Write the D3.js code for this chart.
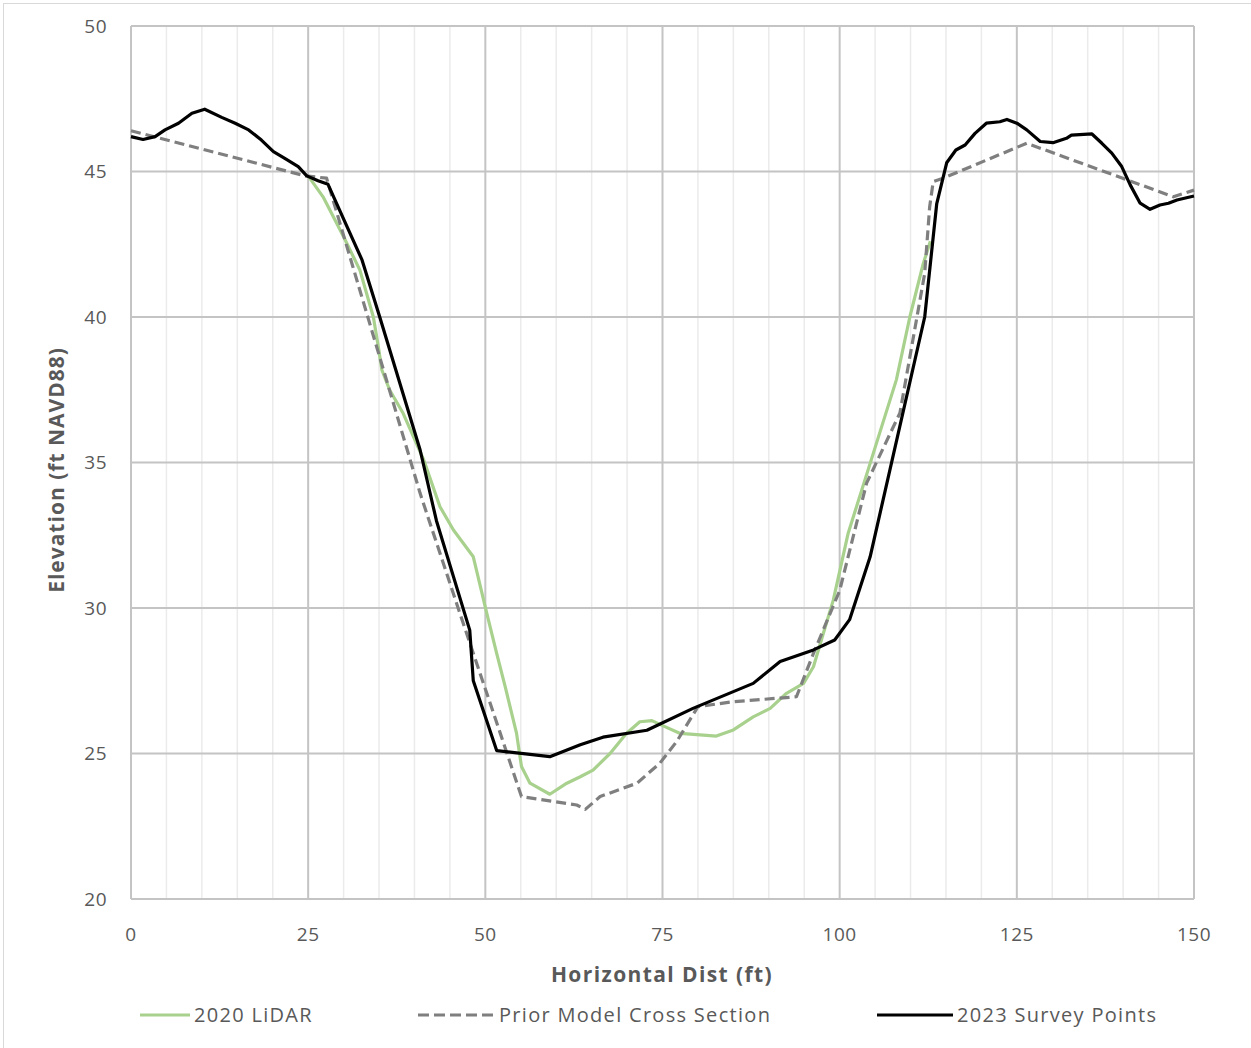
<!DOCTYPE html>
<html>
<head>
<meta charset="utf-8">
<script src="https://cdn.jsdelivr.net/npm/d3@7"></script>
<style>
  body { margin: 0; background: #fff; }
  text { font-family: "Open Sans", "Segoe UI", sans-serif; }
</style>
</head>
<body>
<svg id="chart" width="1251" height="1048"></svg>
<script>
// 2020 LiDAR (x ft, elevation ft)
const lidarX = [25.0, 27.1, 30.0, 32.3, 34.2, 34.9, 35.4, 36.5, 38.4, 41.3, 43.6, 45.5, 48.3, 50.2, 51.6, 52.8, 54.4, 55.1, 56.3, 59.1, 61.5, 63.4, 65.2, 67.6, 69.9, 71.8, 73.5, 75.1, 77.5, 80.3, 82.6, 85.0, 87.8, 90.2, 92.5, 94.9, 96.3, 97.7, 99.1, 101.2, 104.3, 108.0, 109.9, 111.8, 112.8];
const lidarY = [44.85, 44.13, 42.76, 41.61, 40.0, 38.98, 38.18, 37.49, 36.69, 35.09, 33.48, 32.68, 31.76, 29.82, 28.44, 27.3, 25.7, 24.55, 23.98, 23.6, 23.98, 24.2, 24.43, 25.0, 25.69, 26.09, 26.13, 25.95, 25.69, 25.64, 25.6, 25.81, 26.26, 26.55, 27.07, 27.41, 27.98, 29.13, 30.27, 32.57, 34.97, 37.84, 40.0, 41.84, 42.6];

// Prior model cross section
const priorX = [0, 24.6, 27.6, 40.8, 46.4, 52.1, 55.1, 62.9, 64.1, 66.2, 71.4, 74.6, 77.0, 80.0, 85.0, 93.9, 96.3, 100.0, 103.8, 108.5, 112.0, 112.7, 113.2, 114.6, 126.4, 147.1, 150];
const priorY = [46.4, 44.85, 44.77, 33.94, 29.82, 25.7, 23.52, 23.23, 23.08, 23.52, 23.98, 24.66, 25.41, 26.61, 26.78, 26.95, 28.44, 30.6, 34.29, 36.7, 41.5, 43.79, 44.65, 44.77, 45.97, 44.13, 44.36];

// 2023 survey points
const surveyX = [0, 1.7, 3.4, 4.8, 6.7, 8.6, 10.4, 12.8, 14.7, 16.6, 18.4, 20.1, 21.7, 23.6, 24.8, 26.4, 27.8, 32.6, 35.1, 40.8, 43.1, 47.8, 48.3, 51.6, 59.1, 63.4, 66.6, 72.8, 79.3, 87.8, 91.6, 96.3, 99.3, 101.4, 104.3, 107.3, 112.0, 113.7, 115.1, 116.4, 117.7, 119.1, 120.7, 122.6, 123.6, 125.0, 126.4, 128.3, 130.1, 132.0, 132.7, 135.6, 137.0, 138.4, 139.8, 141.0, 142.4, 143.8, 145.2, 146.4, 147.6, 150];
const surveyY = [46.2, 46.1, 46.2, 46.43, 46.66, 47.0, 47.14, 46.86, 46.66, 46.43, 46.08, 45.68, 45.45, 45.17, 44.85, 44.68, 44.56, 41.96, 40.0, 35.43, 33.0, 29.24, 27.5, 25.1, 24.89, 25.3, 25.56, 25.8, 26.55, 27.41, 28.16, 28.56, 28.9, 29.6, 31.76, 34.97, 40.0, 43.9, 45.3, 45.74, 45.91, 46.31, 46.66, 46.71, 46.79, 46.66, 46.43, 46.03, 45.99, 46.14, 46.25, 46.29, 45.97, 45.63, 45.17, 44.54, 43.91, 43.7, 43.85, 43.91, 44.02, 44.16];

const xTicks = [0, 25, 50, 75, 100, 125, 150];
const xMinor = d3.range(0, 151, 5);
const yTicks = [20, 25, 30, 35, 40, 45, 50];

const series = [
  { name: "2020 LiDAR", xs: lidarX, ys: lidarY, color: "#a9d18e", width: 3.2, dash: null },
  { name: "Prior Model Cross Section", xs: priorX, ys: priorY, color: "#7f7f7f", width: 3.2, dash: "10,5" },
  { name: "2023 Survey Points", xs: surveyX, ys: surveyY, color: "#000000", width: 3.2, dash: null }
];

const svg = d3.select("#chart");
const margin = { l: 131, r: 57, t: 26, b: 149 };
const W = 1251, H = 1048;

// light frame around chart area
svg.append("rect").attr("x", 3.5).attr("y", 3.5).attr("width", W).attr("height", H)
  .attr("fill", "none").attr("stroke", "#d9d9d9").attr("stroke-width", 1);

const x = d3.scaleLinear().domain([0, 150]).range([margin.l, W - margin.r]);
const y = d3.scaleLinear().domain([20, 50]).range([H - margin.b, margin.t]);

// minor vertical gridlines
svg.append("g").selectAll("line").data(xMinor.filter(d => d % 25 !== 0)).join("line")
  .attr("x1", d => x(d)).attr("x2", d => x(d))
  .attr("y1", y(20)).attr("y2", y(50))
  .attr("stroke", "#ebebeb").attr("stroke-width", 1.5);

// major gridlines
svg.append("g").selectAll("line").data(xTicks).join("line")
  .attr("x1", d => x(d)).attr("x2", d => x(d))
  .attr("y1", y(20)).attr("y2", y(50))
  .attr("stroke", "#c4c4c4").attr("stroke-width", 2);
svg.append("g").selectAll("line").data(yTicks).join("line")
  .attr("x1", x(0)).attr("x2", x(150))
  .attr("y1", d => y(d)).attr("y2", d => y(d))
  .attr("stroke", "#c4c4c4").attr("stroke-width", 2);

// tick labels
svg.append("g").selectAll("text").data(yTicks).join("text")
  .attr("x", 107).attr("y", d => y(d)).attr("dy", "0.35em")
  .attr("text-anchor", "end").attr("font-size", 19).attr("fill", "#595959")
  .attr("letter-spacing", 0.5)
  .text(d => d);
svg.append("g").selectAll("text").data(xTicks).join("text")
  .attr("x", d => x(d)).attr("y", 934).attr("dy", "0.35em")
  .attr("text-anchor", "middle").attr("font-size", 19).attr("fill", "#595959")
  .attr("letter-spacing", 0.5)
  .text(d => d);

// axis titles
svg.append("text").attr("x", 662).attr("y", 975).attr("dy", "0.35em")
  .attr("text-anchor", "middle").attr("font-size", 21).attr("font-weight", "bold")
  .attr("letter-spacing", 1.4)
  .attr("fill", "#595959").text("Horizontal  Dist (ft)");
svg.append("text").attr("transform", "translate(57," + 470 + ") rotate(-90)")
  .attr("dy", "0.35em").attr("text-anchor", "middle").attr("font-size", 21)
  .attr("letter-spacing", 1.0)
  .attr("font-weight", "bold").attr("fill", "#595959").text("Elevation (ft NAVD88)");

// lines
const line = d3.line().x(d => x(d[0])).y(d => y(d[1]));
series.forEach(s => {
  const pts = s.xs.map((v, i) => [v, s.ys[i]]);
  svg.append("path").datum(pts)
    .attr("d", line)
    .attr("fill", "none")
    .attr("stroke", s.color)
    .attr("stroke-width", s.width)
    .attr("stroke-linejoin", "round")
    .attr("stroke-dasharray", s.dash);
});

// legend
const legendPos = [{ x1: 140, x2: 190 }, { x1: 418, x2: 495 }, { x1: 877, x2: 953 }];
series.forEach((s, i) => {
  const p = legendPos[i];
  svg.append("line").attr("x1", p.x1).attr("x2", p.x2).attr("y1", 1015).attr("y2", 1015)
    .attr("stroke", s.color).attr("stroke-width", 3.2).attr("stroke-dasharray", s.dash ? "11,5" : null);
  svg.append("text").attr("x", p.x2 + 4).attr("y", 1015).attr("dy", "0.35em")
    .attr("font-size", 20).attr("letter-spacing", 1.3)
    .attr("fill", "#595959").text(s.name);
});
</script>
</body>
</html>
